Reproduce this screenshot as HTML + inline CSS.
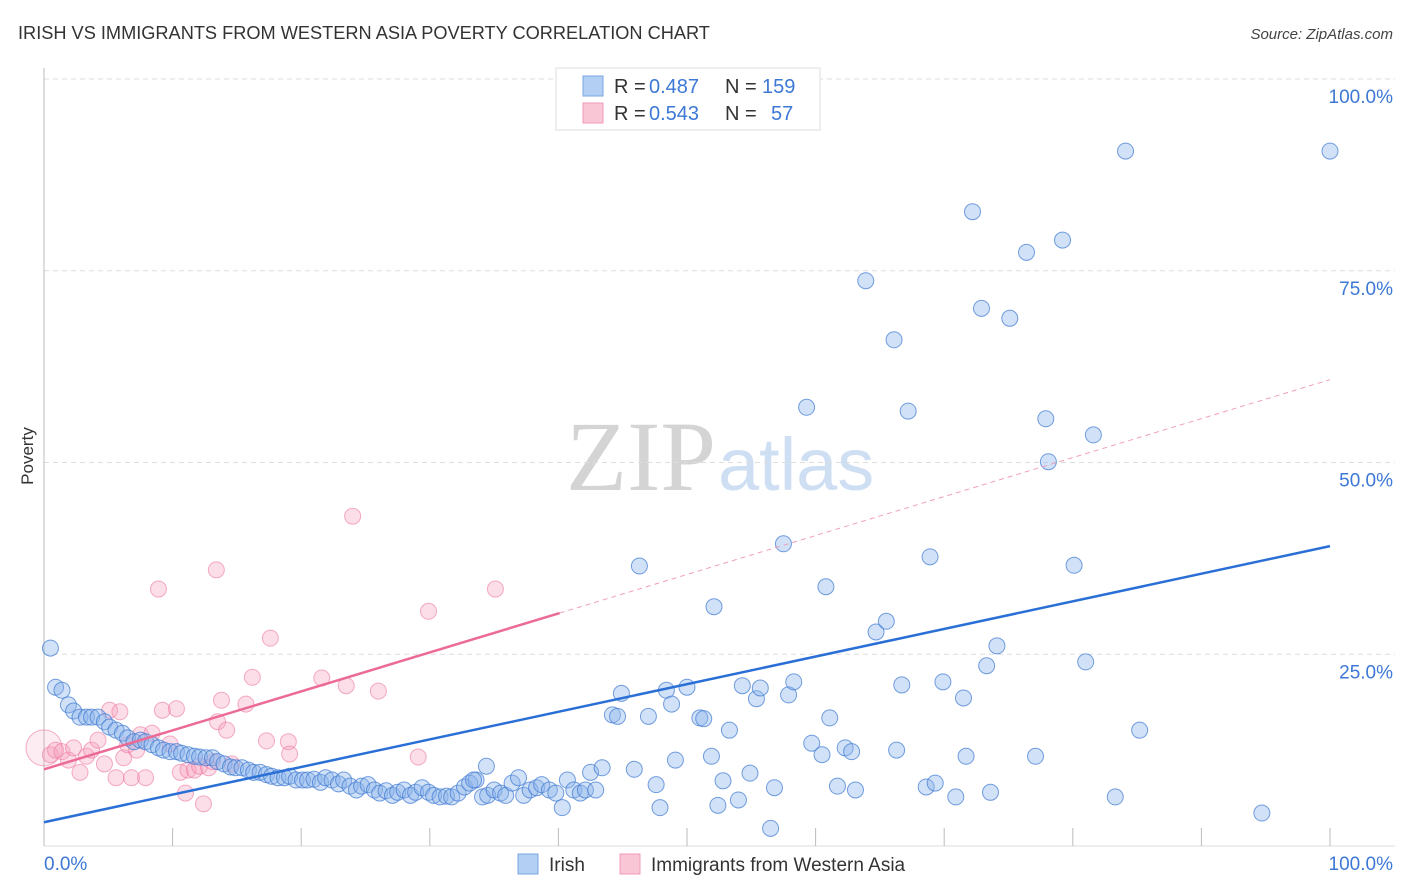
<!DOCTYPE html>
<html><head><meta charset="utf-8"><style>
body{margin:0;background:#fff;font-family:"Liberation Sans",sans-serif;}
svg{display:block}
</style></head><body>
<svg id="chart" width="1406" height="892">
<text x="18" y="39" font-size="18.2" fill="#333">IRISH VS IMMIGRANTS FROM WESTERN ASIA POVERTY CORRELATION CHART</text>
<text x="1393" y="39" font-size="15" fill="#444" font-style="italic" text-anchor="end">Source: ZipAtlas.com</text>
<text transform="translate(33,456) rotate(-90)" font-size="17" fill="#333" text-anchor="middle">Poverty</text>
<text x="716" y="490" font-size="100" fill="#d4d4d4" text-anchor="end" font-family="Liberation Serif,serif">ZIP</text>
<text x="718" y="490" font-size="74" fill="#cfdff3">atlas</text>
<g id="grid"></g><g id="axes"></g><g id="pts"></g><g id="trend"></g>
<g>
<rect x="556" y="68" width="264" height="62" fill="#fff" stroke="#ddd"/>
<rect x="583" y="76" width="20" height="20" fill="#b4cff4" stroke="#7aa6e6"/>
<rect x="583" y="103" width="20" height="20" fill="#f9c6d6" stroke="#f09ab5"/>
<text y="93" font-size="20" fill="#333"><tspan x="614">R =</tspan><tspan x="649" fill="#3d78d6">0.487</tspan><tspan x="725">N =</tspan><tspan x="762" fill="#3d78d6">159</tspan></text>
<text y="120" font-size="20" fill="#333"><tspan x="614">R =</tspan><tspan x="649" fill="#3d78d6">0.543</tspan><tspan x="725">N =</tspan><tspan x="771" fill="#3d78d6">57</tspan></text>
</g>
<g>
<rect x="518" y="854" width="20" height="20" fill="#b4cff4" stroke="#7aa6e6"/>
<text x="549" y="871" font-size="19" fill="#333">Irish</text>
<rect x="620" y="854" width="20" height="20" fill="#f9c6d6" stroke="#f09ab5"/>
<text x="651" y="871" font-size="19" fill="#333">Immigrants from Western Asia</text>
</g>
</svg>
<script>
const yTicks=[25,50,75,100];
const yTickLabels=["25.0%","50.0%","75.0%","100.0%"];
const xTicks=[0,10,20,30,40,50,60,70,80,90,100];
const irishX=[0.5,0.9,1.4,1.9,2.3,2.8,3.3,3.7,4.2,4.7,5.1,5.6,6.1,6.5,7.0,7.5,7.9,8.4,8.9,9.3,9.8,10.3,10.7,11.2,11.7,12.1,12.6,13.1,13.5,14.0,14.5,14.9,15.4,15.9,16.3,16.8,17.3,17.7,18.2,18.7,19.1,19.6,20.1,20.5,21.0,21.5,21.9,22.4,22.9,23.3,23.8,24.3,24.7,25.2,25.7,26.1,26.6,27.1,27.5,28.0,28.5,28.9,29.4,29.9,30.3,30.8,31.3,31.7,32.2,32.7,33.1,33.6,34.1,34.5,35.0,35.5,35.9,36.4,36.9,37.3,37.8,38.3,38.7,39.3,39.8,40.3,40.7,41.2,41.7,42.1,42.5,42.9,43.4,34.4,33.4,44.2,44.6,44.9,45.9,46.3,47.0,47.6,47.9,48.4,48.8,49.1,50.0,51.0,51.3,51.9,52.1,52.4,52.8,53.3,54.0,54.3,54.9,55.4,55.7,56.5,56.8,57.5,57.9,58.3,59.3,59.7,60.5,60.8,61.1,61.7,62.3,62.8,63.1,63.9,64.7,65.5,66.1,66.3,66.7,67.2,68.6,68.9,69.3,69.9,70.9,71.5,71.7,72.2,72.9,73.3,73.6,74.1,75.1,76.4,77.1,77.9,78.1,79.2,80.1,81.0,81.6,83.3,84.1,85.2,94.7,100];
const irishY=[25.8,20.7,20.3,18.4,17.6,16.8,16.8,16.8,16.8,16.2,15.5,15.1,14.7,14.1,13.6,13.8,13.6,13.2,12.8,12.5,12.3,12.3,12.1,11.9,11.7,11.6,11.5,11.5,11.0,10.7,10.3,10.2,10.2,9.9,9.6,9.6,9.3,9.1,8.9,8.9,9.1,8.6,8.6,8.6,8.7,8.3,8.9,8.6,8.1,8.6,7.8,7.3,7.8,8.0,7.3,6.9,7.2,6.6,7.0,7.3,6.6,7.0,7.6,7.0,6.6,6.4,6.5,6.4,6.9,7.7,8.2,8.6,6.4,6.6,7.3,6.9,6.6,8.2,8.9,6.6,7.3,7.6,8.0,7.3,6.9,5.0,8.6,7.3,6.9,7.3,9.6,7.3,10.2,10.4,8.6,17.1,16.9,19.9,10.0,36.5,16.9,8.0,5.0,20.3,18.5,11.2,20.7,16.7,16.6,11.7,31.2,5.3,8.5,15.1,6.0,20.9,9.5,19.2,20.6,2.3,7.6,39.4,19.7,21.4,57.2,13.4,11.9,33.8,16.7,7.8,12.8,12.3,7.3,73.7,27.9,29.3,66.0,12.5,21.0,56.7,7.7,37.7,8.2,21.4,6.4,19.3,11.7,82.7,70.1,23.5,7.0,26.1,68.8,77.4,11.7,55.7,50.1,79.0,36.6,24.0,53.6,6.4,90.6,15.1,4.3,90.6];
const immX=[0,0.5,0.9,1.4,1.9,2.3,2.8,3.3,3.7,4.2,4.7,5.1,5.6,5.9,6.2,6.5,6.8,7.2,7.5,7.9,8.4,8.9,9.2,9.8,10.3,10.6,11.0,11.2,11.7,12.1,12.4,12.8,13.1,13.4,13.5,13.8,14.2,14.6,15.7,16.2,17.3,17.6,19.0,19.1,21.6,23.5,24.0,26.0,29.1,29.9,35.1];
const immY=[12.8,11.9,12.5,12.3,11.2,12.8,9.6,11.7,12.5,13.8,10.7,17.7,8.9,17.5,11.5,13.2,8.9,12.5,14.5,8.9,14.7,33.5,17.7,13.3,17.9,9.6,6.9,9.9,9.9,10.4,5.5,10.2,11.0,36.0,16.2,19.0,15.1,10.7,18.5,22.0,13.7,27.1,13.6,12.0,21.9,20.9,43.0,20.2,11.6,30.6,33.5];
const irishTrend=[3.1,39.1];
const immTrend=[10.0,60.8];
const immSolidEnd=40.1;

const X=v=>44+v*12.86, Y=v=>846-v*7.67;
const NS="http://www.w3.org/2000/svg";
function mk(tag,attrs,parent){const e=document.createElementNS(NS,tag);for(const k in attrs)e.setAttribute(k,attrs[k]);document.getElementById(parent).appendChild(e);return e;}
yTicks.forEach((t,i)=>{
 const g=mk('line',{x1:44,x2:1395,y1:Y(t),y2:Y(t),stroke:'#ddd','stroke-dasharray':'5,4'},'grid');
 
 
 const l=mk('text',{x:1393,y:Y(t)+24,'text-anchor':'end','font-size':19,fill:'#3d78d6'},'grid');
 l.textContent=yTickLabels[i];
 
 
});
const ax=mk('line',{x1:44,x2:44,y1:68,y2:846,stroke:'#bbb'},'axes');


const bx=mk('line',{x1:44,x2:1395,y1:846,y2:846,stroke:'#ddd'},'axes');


xTicks.forEach(t=>{const tk=mk('line',{x1:X(t),x2:X(t),y1:828,y2:846,stroke:'#bbb'},'axes');
 
 });
const x0=mk('text',{x:44,y:870,'font-size':19,fill:'#3d78d6'},'axes');x0.textContent='0.0%';


const x1=mk('text',{x:1393,y:870,'font-size':19,fill:'#3d78d6','text-anchor':'end'},'axes');x1.textContent='100.0%';


immX.forEach((v,i)=>{const c=mk('circle',{cx:X(v),cy:Y(immY[i]),r:i===0?18:8,fill:i===0?'rgba(246,160,190,0.2)':'rgba(246,160,190,0.35)',stroke:'rgba(236,120,160,0.6)','stroke-width':1},'pts');
 
 });
irishX.forEach((v,i)=>{const c=mk('circle',{cx:X(v),cy:Y(irishY[i]),r:8,fill:'rgba(140,180,235,0.4)',stroke:'rgba(60,120,210,0.7)','stroke-width':1},'pts');
 
 });
const bt=mk('line',{x1:X(0),y1:Y(irishTrend[0]),x2:X(100),y2:Y(irishTrend[1]),stroke:'#2a6fd6','stroke-width':2.5},'trend');


const py=x=>immTrend[0]+(immTrend[1]-immTrend[0])*x/100;
const pt=mk('line',{x1:X(0),y1:Y(immTrend[0]),x2:X(immSolidEnd),y2:Y(py(immSolidEnd)),stroke:'#ec6b95','stroke-width':2.5},'trend');


const pd=mk('line',{x1:X(immSolidEnd),y1:Y(py(immSolidEnd)),x2:X(100),y2:Y(immTrend[1]),stroke:'#f0a0bb','stroke-width':1,'stroke-dasharray':'5,4'},'trend');


</script>
</body></html>
